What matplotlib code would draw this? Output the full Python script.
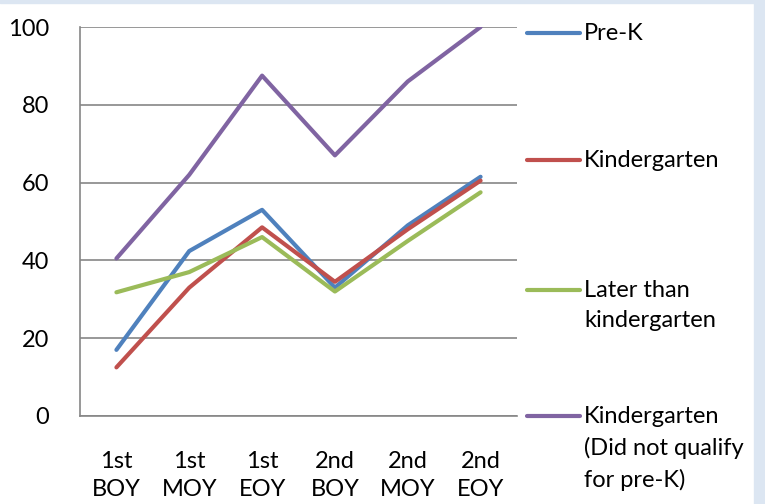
import matplotlib.pyplot as plt
from matplotlib.lines import Line2D
from matplotlib.patches import Rectangle

plt.rcParams['font.family'] = ['Lato', 'DejaVu Sans']

periods = ['1st\nBOY', '1st\nMOY', '1st\nEOY', '2nd\nBOY', '2nd\nMOY', '2nd\nEOY']
pre_k = [17, 42.4, 53, 33, 49, 61.5]
kinder = [12.5, 33, 48.5, 34.5, 48, 60.5]
later = [31.8, 37, 46, 32, 45, 57.5]
kinder_nq = [40.5, 62, 87.5, 67, 86, 100]

names = ['Pre-K', 'Kindergarten', 'Later than\nkindergarten',
         'Kindergarten\n(Did not qualify\nfor pre-K)']
colors = ['#4f81bd', '#c0504d', '#9bbb59', '#8064a2']
series = [pre_k, kinder, later, kinder_nq]

fig = plt.figure(figsize=(7.65, 5.04), dpi=100)
W, H = 765, 504
FS = 17

# light frame strips along top and right edge
fig.patches.append(Rectangle((0, 1 - 3 / H), 1, 3 / H, transform=fig.transFigure,
                             color='#dce6f2', zorder=0))
fig.patches.append(Rectangle((754 / W, 0), 11 / W, 1, transform=fig.transFigure,
                             color='#dce6f2', zorder=0))

ax = fig.add_axes([80 / W, 1 - 416 / H, 437 / W, 389 / H])
x = [i + 0.5 for i in range(len(periods))]
for vals, c in zip(series, colors):
    ax.plot(x, vals, color=c, lw=3, solid_capstyle='round', solid_joinstyle='round')

ax.set_xlim(0, 6)
ax.set_ylim(0, 100)
ax.set_yticks(range(0, 101, 20))
ax.set_xticks(x)
ax.set_xticklabels(periods, fontsize=FS, linespacing=1.45)
ax.tick_params(axis='both', length=0, labelsize=FS)
ax.tick_params(axis='x', pad=25)
ax.tick_params(axis='y', pad=22)
ax.grid(axis='y', color='#868686', lw=1.2)
ax.set_axisbelow(True)
for side in ['top', 'right']:
    ax.spines[side].set_visible(False)
for side in ['left', 'bottom']:
    ax.spines[side].set_color('#868686')
    ax.spines[side].set_linewidth(1.2)

# legend entries placed down the right side
legend_y = [33, 160, 290, 416]
for name, c, yy in zip(names, colors, legend_y):
    fy = 1 - yy / H
    fig.add_artist(Line2D([527 / W, 580 / W], [fy, fy], color=c, lw=3,
                          solid_capstyle='round', transform=fig.transFigure))
    fig.text(584 / W, fy + 10 / H, name, fontsize=FS, va='top', ha='left',
             linespacing=1.55)

fig.savefig('out.png', dpi=100)
